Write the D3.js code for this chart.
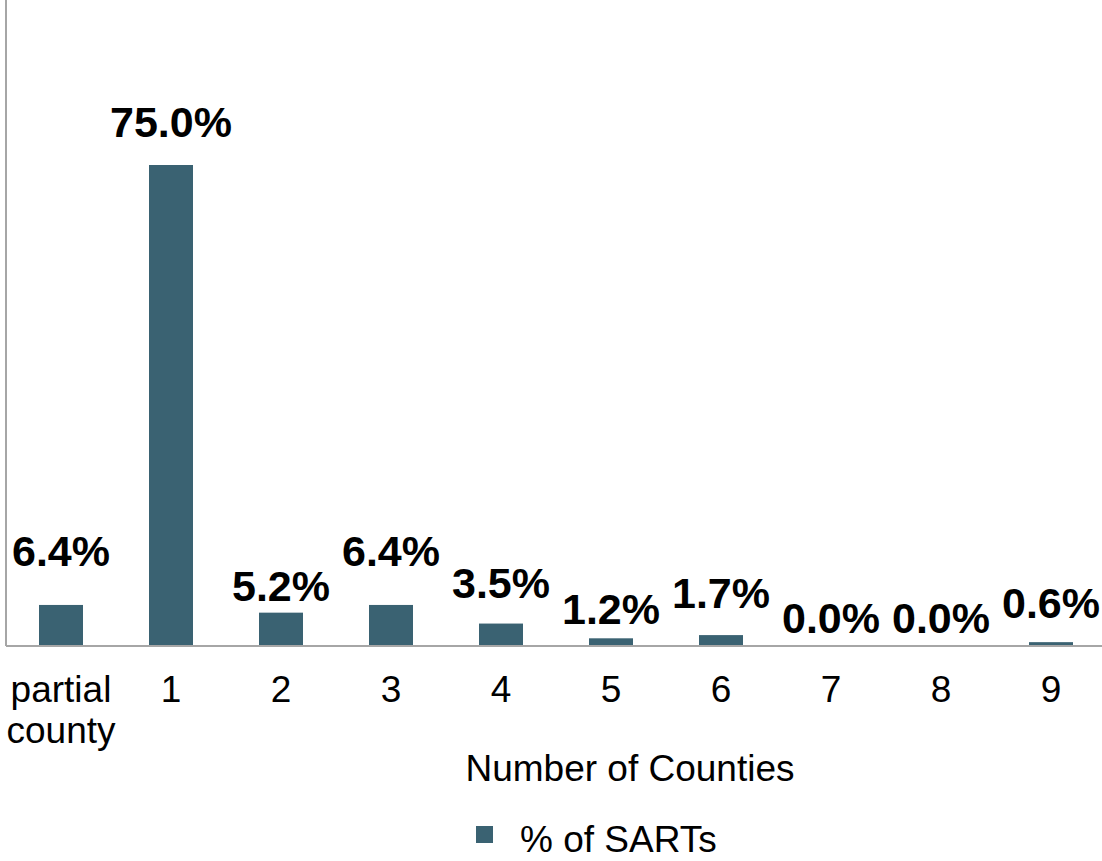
<!DOCTYPE html>
<html>
<head>
<meta charset="utf-8">
<script src="https://cdn.jsdelivr.net/npm/d3@7"></script>
<style>
  body { margin: 0; background: #fff; }
  text { font-family: "Liberation Sans", Arial, sans-serif; fill: #000; }
</style>
</head>
<body>
<svg id="chart" width="1102" height="861"></svg>
<script>
// data
var categories = ["partial county", "1", "2", "3", "4", "5", "6", "7", "8", "9"];
var pctSARTs = [6.4, 75.0, 5.2, 6.4, 3.5, 1.2, 1.7, 0.0, 0.0, 0.6];
var seriesName = "% of SARTs";
var axisTitle = "Number of Counties";

// label nudges (px above bar top) - the original has them hand placed
var labelLift = [39, 28, 12, 39, 26, 14, 27, 13, 13, 24];

var svg = d3.select("#chart");
var left = 6, baseY = 646;

var x = d3.scaleBand()
  .domain(categories)
  .range([left, left + 110 * categories.length])
  .paddingInner(0.6)
  .paddingOuter(0.3);

var y = d3.scaleLinear()
  .domain([0, 75])
  .range([baseY, 165]);

var barColor = "#3a6272";

// bars
svg.append("g").selectAll("rect")
  .data(pctSARTs)
  .enter().append("rect")
  .attr("x", function(d, i) { return x(categories[i]); })
  .attr("y", function(d) { return y(d); })
  .attr("width", x.bandwidth())
  .attr("height", function(d) { return baseY - y(d); })
  .attr("fill", barColor);

// axis lines
svg.append("line")
  .attr("x1", left).attr("x2", left)
  .attr("y1", 0).attr("y2", baseY)
  .attr("stroke", "#a6a6a6").attr("stroke-width", 2);
svg.append("line")
  .attr("x1", left).attr("x2", 1102)
  .attr("y1", baseY).attr("y2", baseY)
  .attr("stroke", "#a6a6a6").attr("stroke-width", 2);

// value labels
svg.append("g").selectAll("text")
  .data(pctSARTs)
  .enter().append("text")
  .attr("x", function(d, i) { return x(categories[i]) + x.bandwidth() / 2; })
  .attr("y", function(d, i) { return y(d) - labelLift[i]; })
  .attr("text-anchor", "middle")
  .style("font-size", "43px")
  .style("font-weight", "bold")
  .text(function(d) { return d.toFixed(1) + "%"; });

// category labels (wrap on space)
var ticks = svg.append("g").selectAll("text")
  .data(categories)
  .enter().append("text")
  .attr("x", function(d) { return x(d) + x.bandwidth() / 2; })
  .attr("y", 702)
  .attr("text-anchor", "middle")
  .style("font-size", "37px");
ticks.each(function(d) {
  var parts = d.split(" ");
  var t = d3.select(this);
  parts.forEach(function(p, j) {
    t.append("tspan")
      .attr("x", t.attr("x"))
      .attr("dy", j === 0 ? 0 : 41)
      .text(p);
  });
});

// axis title
svg.append("text")
  .attr("x", 630)
  .attr("y", 781)
  .attr("text-anchor", "middle")
  .style("font-size", "37px")
  .text(axisTitle);

// legend
svg.append("rect")
  .attr("x", 476).attr("y", 826)
  .attr("width", 17).attr("height", 17)
  .attr("fill", barColor);
svg.append("text")
  .attr("x", 520).attr("y", 852)
  .style("font-size", "37px")
  .text(seriesName);
</script>
</body>
</html>
